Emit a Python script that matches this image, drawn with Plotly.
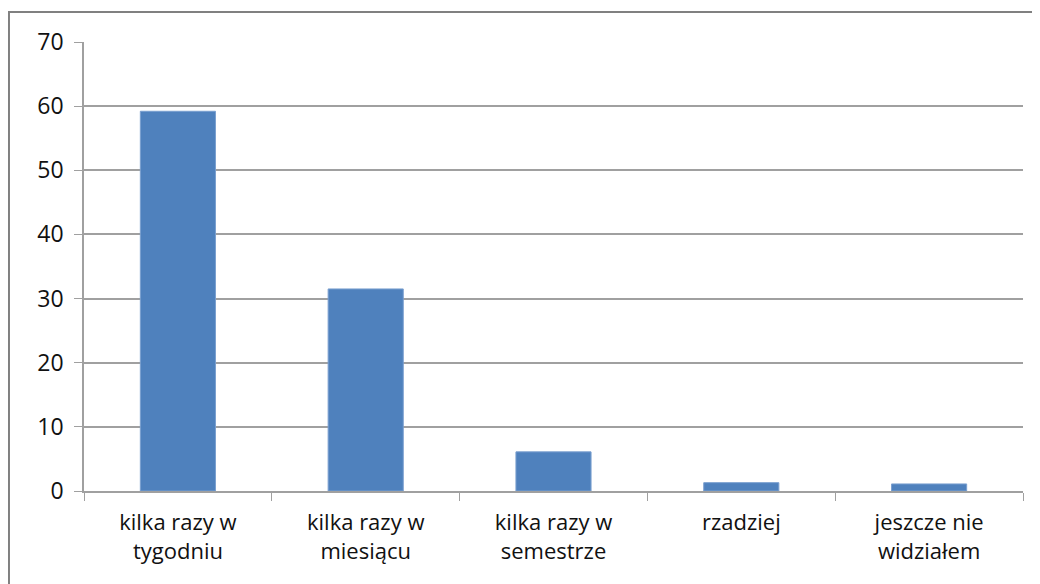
import plotly.graph_objects as go

categories = ["kilka razy w<br>tygodniu", "kilka razy w<br>miesiącu", "kilka razy w<br>semestrze",
              "rzadziej", "jeszcze nie<br>widziałem"]
values = [59.2, 31.5, 6.1, 1.3, 1.1]
y_ticks = [0, 10, 20, 30, 40, 50, 60, 70]

fig = go.Figure()
fig.add_trace(go.Bar(
    x=categories, y=values,
    marker=dict(color="#4f81bd", line=dict(color="#7a9fcf", width=1)),
    width=0.4,
))

fig.update_layout(
    width=1040, height=584,
    margin=dict(l=76, r=25, t=34, b=101),
    paper_bgcolor="white", plot_bgcolor="white",
    font=dict(family="Open Sans", size=22, color="#111111"),
    showlegend=False,
    shapes=[dict(type="rect", xref="paper", yref="paper",
                 x0=-0.0799, x1=1.0149, y0=-0.3, y1=1.0668,
                 line=dict(color="#808080", width=2), fillcolor="rgba(0,0,0,0)", layer="below")],
)
fig.update_xaxes(
    type="category", showgrid=False,
    showline=True, linecolor="#a0a0a0", linewidth=1.5,
    ticks="outside", tickson="boundaries", ticklen=8, tickcolor="#a0a0a0",
    tickfont=dict(size=22), ticklabelstandoff=11,
)
fig.update_yaxes(
    range=[0, 70], tickvals=y_ticks,
    showgrid=True, gridcolor="#a0a0a0", gridwidth=1.5,
    showline=True, linecolor="#a0a0a0", linewidth=1.5,
    ticks="outside", ticklen=8, tickcolor="#a0a0a0",
    tickfont=dict(size=23), zeroline=False, ticklabelstandoff=6,
)

fig.write_html("out.html")
